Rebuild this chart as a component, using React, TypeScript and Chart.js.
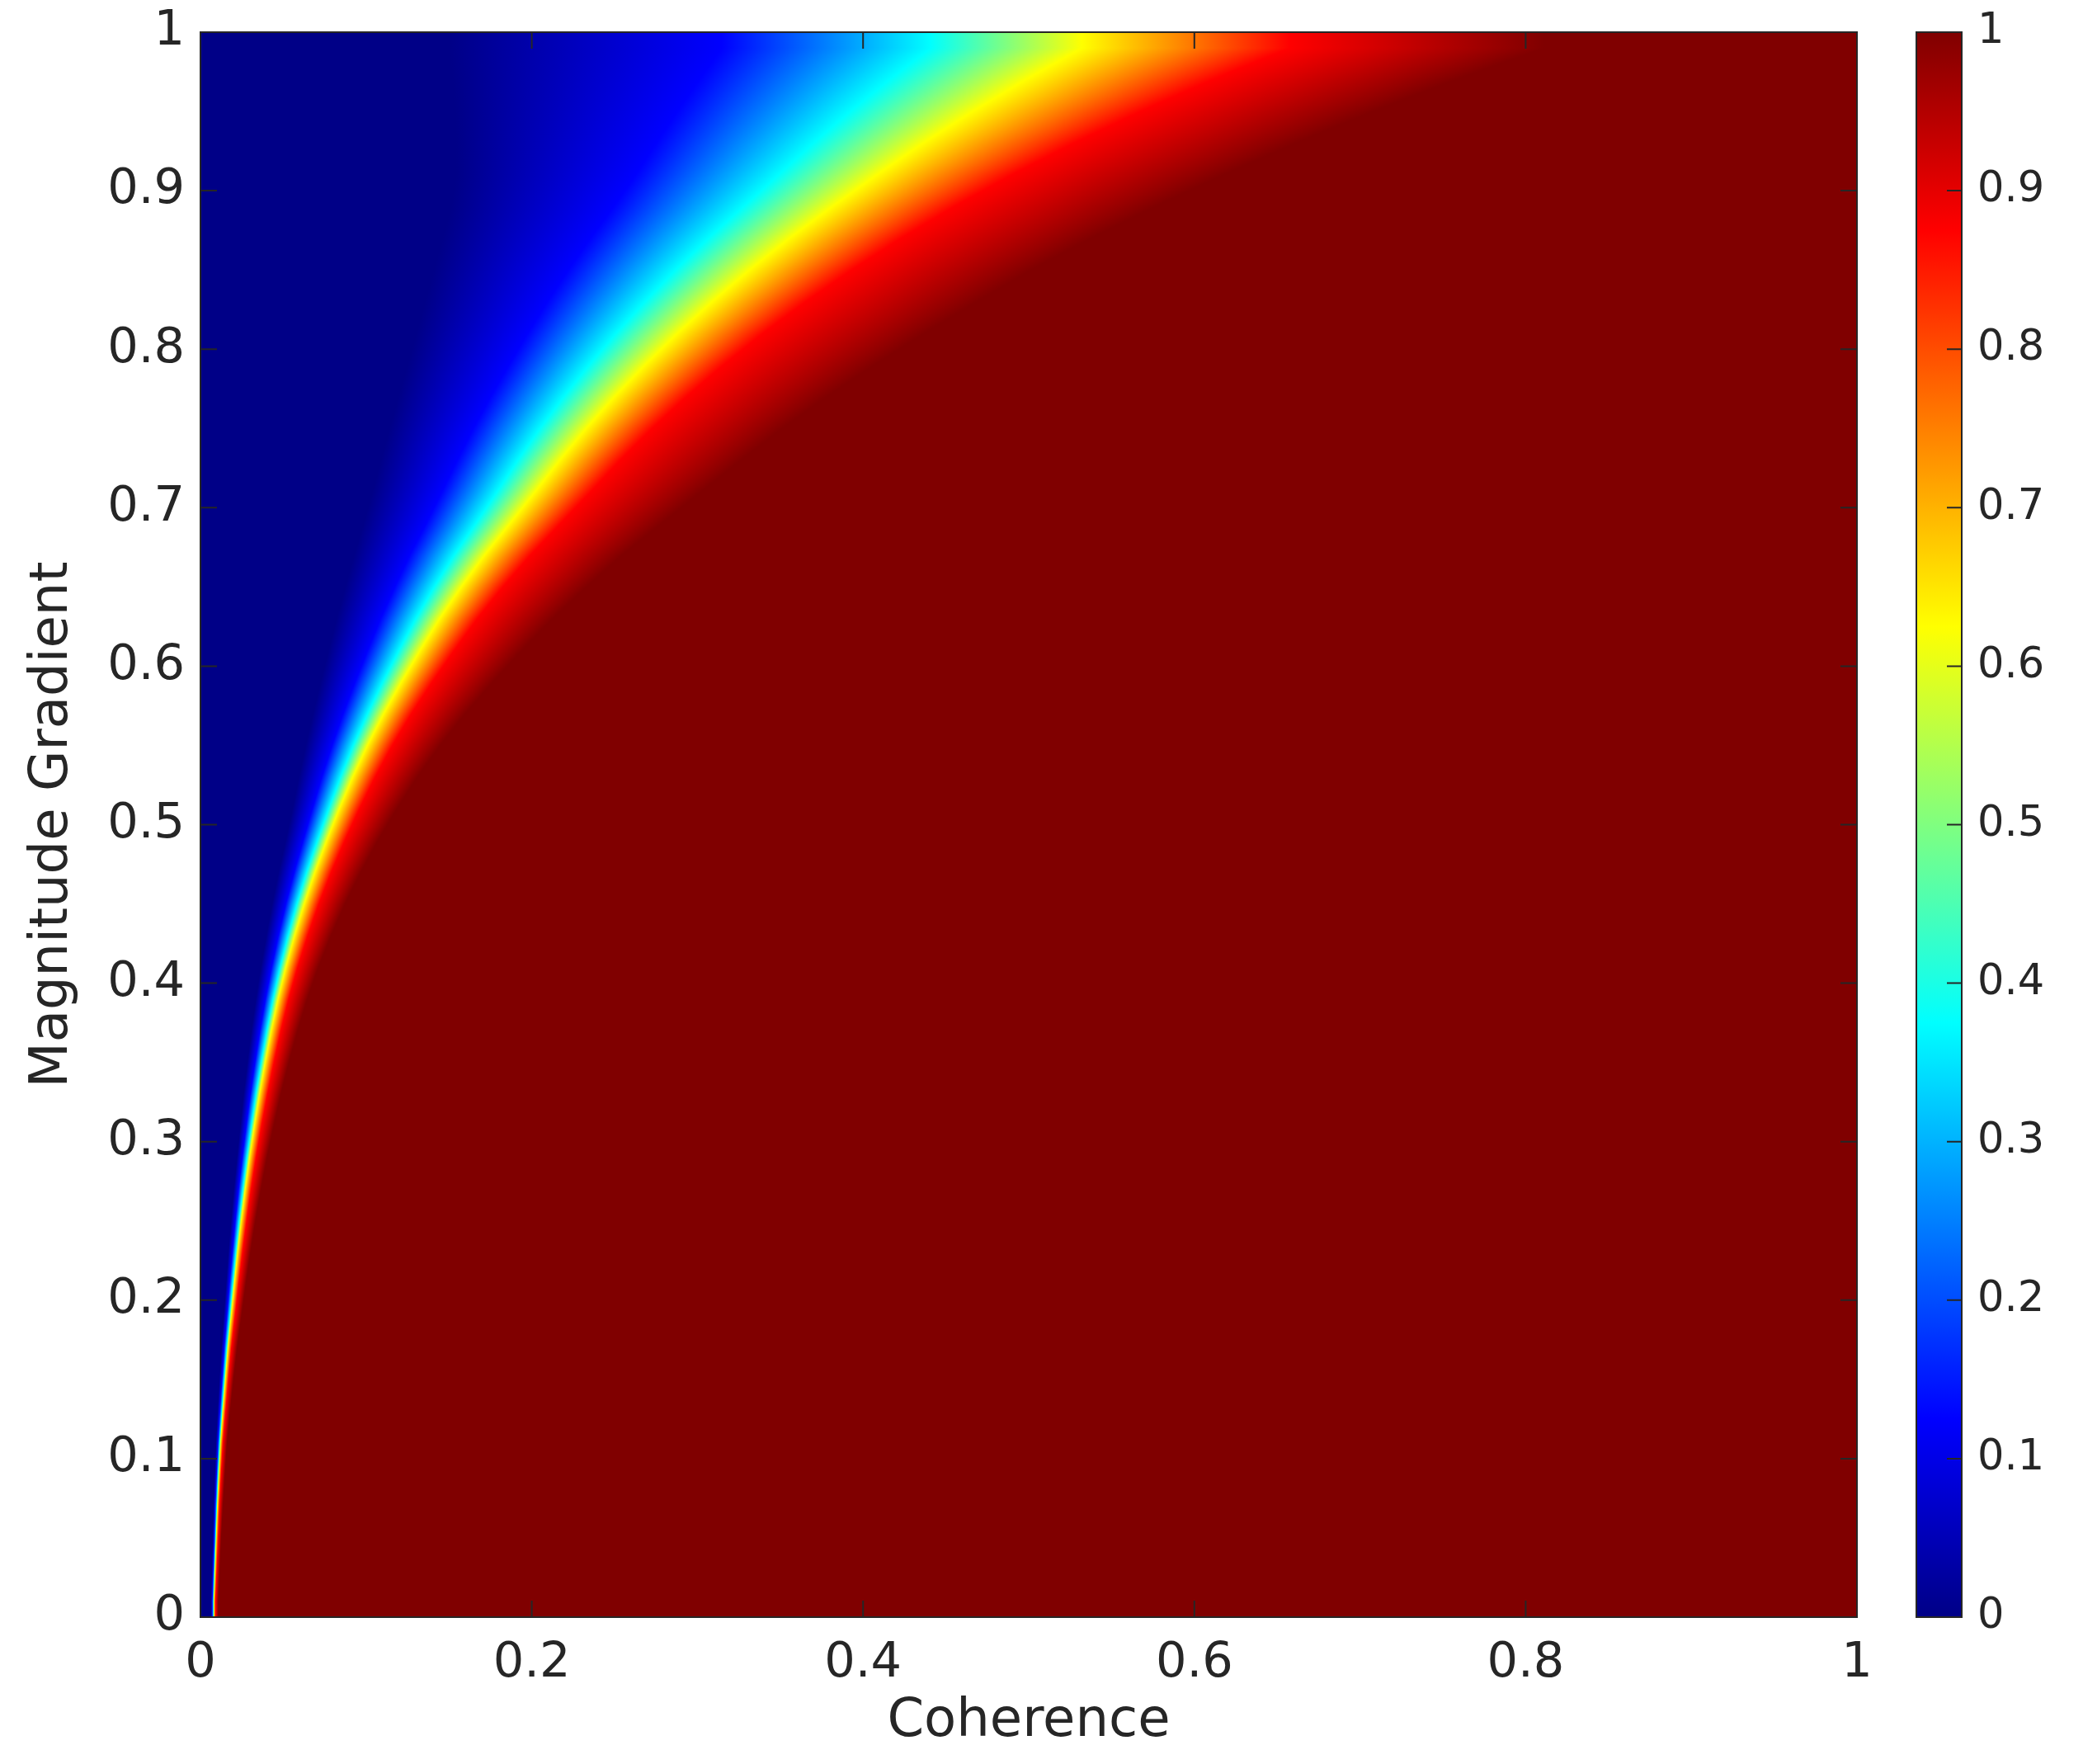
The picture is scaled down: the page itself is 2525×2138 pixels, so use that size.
import { useEffect, useRef } from 'react';
import { Chart, registerables } from 'chart.js';

Chart.register(...registerables);

// Row centres of the image (Magnitude Gradient), 50 rows of height 0.02
const magnitudeGradient = [
  0.01, 0.03, 0.05, 0.07, 0.09, 0.11, 0.13, 0.15, 0.17, 0.19,
  0.21, 0.23, 0.25, 0.27, 0.29, 0.31, 0.33, 0.35, 0.37, 0.39,
  0.41, 0.43, 0.45, 0.47, 0.49, 0.51, 0.53, 0.55, 0.57, 0.59,
  0.61, 0.63, 0.65, 0.67, 0.69, 0.71, 0.73, 0.75, 0.77, 0.79,
  0.81, 0.83, 0.85, 0.87, 0.89, 0.91, 0.93, 0.95, 0.97, 0.99,
];

// Coherence at which each row reaches the colour-bar levels 0, 0.125, 0.375, 0.625, 0.875, 1
const navyEdge = [
  0.0063, 0.0068, 0.0074, 0.0079, 0.0086, 0.0093, 0.0103, 0.0114, 0.0126, 0.0140,
  0.0154, 0.0168, 0.0184, 0.0201, 0.0220, 0.0240, 0.0260, 0.0283, 0.0307, 0.0334,
  0.0364, 0.0397, 0.0432, 0.0471, 0.0514, 0.0555, 0.0594, 0.0635, 0.0679, 0.0725,
  0.0773, 0.0822, 0.0874, 0.0927, 0.0984, 0.1038, 0.1089, 0.1141, 0.1195, 0.1250,
  0.1304, 0.1356, 0.1409, 0.1461, 0.1514, 0.1543, 0.1544, 0.1538, 0.1524, 0.1501,
];
const blueLevel = [
  0.0071, 0.0077, 0.0083, 0.0089, 0.0097, 0.0105, 0.0117, 0.0130, 0.0143, 0.0159,
  0.0175, 0.0192, 0.0210, 0.0230, 0.0252, 0.0276, 0.0301, 0.0329, 0.0359, 0.0392,
  0.0429, 0.0470, 0.0515, 0.0565, 0.0619, 0.0675, 0.0732, 0.0794, 0.0861, 0.0933,
  0.1009, 0.1087, 0.1173, 0.1263, 0.1362, 0.1457, 0.1550, 0.1647, 0.1751, 0.1861,
  0.1975, 0.2094, 0.2220, 0.2353, 0.2494, 0.2627, 0.2750, 0.2878, 0.3010, 0.3147,
];
const cyanLevel = [
  0.0078, 0.0084, 0.0091, 0.0098, 0.0106, 0.0116, 0.0129, 0.0143, 0.0158, 0.0176,
  0.0194, 0.0213, 0.0233, 0.0256, 0.0280, 0.0307, 0.0335, 0.0367, 0.0401, 0.0438,
  0.0481, 0.0529, 0.0582, 0.0641, 0.0706, 0.0774, 0.0845, 0.0922, 0.1008, 0.1100,
  0.1198, 0.1300, 0.1411, 0.1531, 0.1662, 0.1791, 0.1916, 0.2050, 0.2193, 0.2346,
  0.2509, 0.2683, 0.2868, 0.3066, 0.3278, 0.3490, 0.3699, 0.3922, 0.4158, 0.4407,
];
const yellowLevel = [
  0.0081, 0.0088, 0.0095, 0.0102, 0.0111, 0.0121, 0.0135, 0.0150, 0.0166, 0.0185,
  0.0204, 0.0224, 0.0246, 0.0270, 0.0296, 0.0325, 0.0356, 0.0390, 0.0427, 0.0468,
  0.0515, 0.0568, 0.0626, 0.0691, 0.0762, 0.0838, 0.0919, 0.1008, 0.1106, 0.1213,
  0.1326, 0.1444, 0.1574, 0.1714, 0.1868, 0.2020, 0.2169, 0.2328, 0.2499, 0.2683,
  0.2879, 0.3089, 0.3314, 0.3555, 0.3814, 0.4083, 0.4362, 0.4661, 0.4980, 0.5321,
];
const redLevel = [
  0.0091, 0.0099, 0.0107, 0.0115, 0.0125, 0.0136, 0.0152, 0.0169, 0.0187, 0.0209,
  0.0231, 0.0254, 0.0279, 0.0306, 0.0336, 0.0369, 0.0405, 0.0444, 0.0486, 0.0533,
  0.0587, 0.0648, 0.0715, 0.0790, 0.0872, 0.0960, 0.1055, 0.1159, 0.1274, 0.1400,
  0.1533, 0.1672, 0.1826, 0.1992, 0.2174, 0.2356, 0.2535, 0.2727, 0.2934, 0.3157,
  0.3396, 0.3655, 0.3932, 0.4230, 0.4551, 0.4898, 0.5272, 0.5675, 0.6108, 0.6574,
];
const darkRedEdge = [
  0.0108, 0.0117, 0.0126, 0.0136, 0.0148, 0.0161, 0.0180, 0.0200, 0.0222, 0.0248,
  0.0274, 0.0302, 0.0332, 0.0366, 0.0402, 0.0443, 0.0486, 0.0534, 0.0587, 0.0645,
  0.0712, 0.0789, 0.0873, 0.0968, 0.1072, 0.1186, 0.1310, 0.1447, 0.1598, 0.1765,
  0.1941, 0.2126, 0.2330, 0.2544, 0.2783, 0.3021, 0.3263, 0.3512, 0.3780, 0.4068,
  0.4370, 0.4688, 0.5014, 0.5376, 0.5764, 0.6175, 0.6612, 0.7078, 0.7577, 0.8111,
];

const xTickValues = [0, 0.2, 0.4, 0.6, 0.8, 1];
const xTickLabels = ['0', '0.2', '0.4', '0.6', '0.8', '1'];
const yTickValues = [0, 0.1, 0.2, 0.3, 0.4, 0.5, 0.6, 0.7, 0.8, 0.9, 1];
const yTickLabels = ['0', '0.1', '0.2', '0.3', '0.4', '0.5', '0.6', '0.7', '0.8', '0.9', '1'];
const colorbarTickValues = [0, 0.1, 0.2, 0.3, 0.4, 0.5, 0.6, 0.7, 0.8, 0.9, 1];
const colorbarTickLabels = ['0', '0.1', '0.2', '0.3', '0.4', '0.5', '0.6', '0.7', '0.8', '0.9', '1'];

// jet colormap key colours
const jetLevels = [0, 0.125, 0.375, 0.625, 0.875, 1];
const jetColors = ['rgb(0,0,135)', 'rgb(0,0,255)', 'rgb(0,255,255)', 'rgb(255,255,0)', 'rgb(255,0,0)', 'rgb(128,0,0)'];
const levelArrays = [navyEdge, blueLevel, cyanLevel, yellowLevel, redLevel, darkRedEdge];

const TEXT = '#262626';
const FONT = "'DejaVu Sans', 'Liberation Sans', sans-serif";

const W = 2525;
const H = 2138;

const clamp01 = (v: number) => Math.min(1, Math.max(0, v));

// Paint the rows (interpolated shading between row centres, like shading interp)
function heatPattern(chart: any): CanvasPattern | string {
  const a = chart.chartArea;
  const xs = chart.scales && chart.scales.x;
  const ys = chart.scales && chart.scales.y;
  if (!a || !xs || !ys) return jetColors[5];
  const key = `${a.left}|${a.top}|${a.right}|${a.bottom}`;
  if (chart.$heat && chart.$heat.key === key) return chart.$heat.pattern;
  const off = document.createElement('canvas');
  off.width = chart.width;
  off.height = chart.height;
  const o = off.getContext('2d') as CanvasRenderingContext2D;
  const p0 = xs.getPixelForValue(0);
  const p1 = xs.getPixelForValue(1);
  const n = magnitudeGradient.length;
  for (let py = Math.floor(a.top); py < Math.ceil(a.bottom); py++) {
    const g = ys.getValueForPixel(py + 0.5);
    let i = 0;
    while (i < n - 2 && magnitudeGradient[i + 1] < g) i++;
    const t = clamp01((g - magnitudeGradient[i]) / (magnitudeGradient[i + 1] - magnitudeGradient[i]));
    const grad = o.createLinearGradient(p0, 0, p1, 0);
    levelArrays.forEach((arr, k) => {
      grad.addColorStop(clamp01(arr[i] + (arr[i + 1] - arr[i]) * t), jetColors[k]);
    });
    o.fillStyle = grad;
    o.fillRect(p0, py, p1 - p0, 1);
  }
  const pattern = chart.ctx.createPattern(off, 'no-repeat');
  chart.$heat = { key, pattern };
  return pattern;
}

const frameAndColorbar = {
  id: 'frameAndColorbar',
  afterDatasetsDraw(chart: any) {
    const { ctx, chartArea: a, scales } = chart;
    const xs = scales.x;
    const ys = scales.y;
    const cb = scales.cb;
    const tick = 20;
    ctx.save();
    ctx.strokeStyle = TEXT;
    ctx.lineWidth = 2;
    ctx.strokeRect(a.left, a.top, a.right - a.left, a.bottom - a.top);
    ctx.beginPath();
    for (const v of xTickValues) {
      const px = xs.getPixelForValue(v);
      ctx.moveTo(px, a.bottom);
      ctx.lineTo(px, a.bottom - tick);
      ctx.moveTo(px, a.top);
      ctx.lineTo(px, a.top + tick);
    }
    for (const v of yTickValues) {
      const py = ys.getPixelForValue(v);
      ctx.moveTo(a.left, py);
      ctx.lineTo(a.left + tick, py);
      ctx.moveTo(a.right, py);
      ctx.lineTo(a.right - tick, py);
    }
    ctx.stroke();

    // colour bar
    const top = cb.getPixelForValue(1);
    const bottom = cb.getPixelForValue(0);
    const left = a.right + 72;
    const width = 55;
    const grad = ctx.createLinearGradient(0, bottom, 0, top);
    jetLevels.forEach((lv, i) => grad.addColorStop(lv, jetColors[i]));
    ctx.fillStyle = grad;
    ctx.fillRect(left, top, width, bottom - top);
    ctx.strokeRect(left, top, width, bottom - top);
    ctx.beginPath();
    for (const v of colorbarTickValues) {
      const py = cb.getPixelForValue(v);
      ctx.moveTo(left + width, py);
      ctx.lineTo(left + width - 18, py);
    }
    ctx.stroke();
    ctx.restore();
  },
};

export default function App() {
  const canvasRef = useRef<HTMLCanvasElement | null>(null);

  useEffect(() => {
    document.body.style.margin = '0';
    document.body.style.overflow = 'hidden';
    const canvas = canvasRef.current;
    if (!canvas) return;

    const rows = magnitudeGradient.map((g) => ({ x: [0, 1], y: g }));

    const chart = new Chart(canvas, {
      type: 'bar',
      data: {
        datasets: [
          {
            data: rows as any,
            xAxisID: 'x',
            yAxisID: 'y',
            borderWidth: 0,
            barPercentage: 1.04,
            categoryPercentage: 1,
            backgroundColor: (ctx: any) => heatPattern(ctx.chart),
          } as any,
        ],
      },
      options: {
        indexAxis: 'y',
        responsive: false,
        animation: false,
        devicePixelRatio: 1,
        layout: { padding: { top: 39, left: 0, right: 0, bottom: 0 } },
        plugins: {
          legend: { display: false },
          tooltip: { enabled: false },
        },
        scales: {
          x: {
            type: 'linear',
            position: 'bottom',
            min: 0,
            max: 1,
            offset: false,
            grid: { display: false, offset: false },
            border: { display: false },
            afterBuildTicks: (scale: any) => {
              scale.ticks = xTickValues.map((v) => ({ value: v }));
            },
            afterFit: (scale: any) => {
              scale.height = H - 1960;
              scale.paddingLeft = 0;
              scale.paddingRight = 0;
            },
            ticks: {
              autoSkip: false,
              maxRotation: 0,
              minRotation: 0,
              padding: 13,
              color: TEXT,
              font: { family: FONT, size: 59 },
              callback: (_v: any, i: number) => xTickLabels[i],
            },
            title: {
              display: true,
              text: 'Coherence',
              color: TEXT,
              font: { family: FONT, size: 64 },
              padding: { top: 0, bottom: 12 },
            },
          },
          y: {
            type: 'linear',
            position: 'left',
            min: 0,
            max: 1,
            offset: false,
            grid: { display: false, offset: false },
            border: { display: false },
            afterBuildTicks: (scale: any) => {
              scale.ticks = yTickValues.map((v) => ({ value: v }));
            },
            afterFit: (scale: any) => {
              scale.width = 243;
              scale.paddingTop = 0;
              scale.paddingBottom = 0;
            },
            ticks: {
              autoSkip: false,
              padding: 11,
              color: TEXT,
              font: { family: FONT, size: 59 },
              callback: (_v: any, i: number) => yTickLabels[i],
            },
            title: {
              display: true,
              text: 'Magnitude Gradient',
              color: TEXT,
              font: { family: FONT, size: 64 },
              padding: { top: 26, bottom: 0 },
            },
          },
          cb: {
            type: 'linear',
            position: 'right',
            min: 0,
            max: 1,
            offset: false,
            grid: { display: false, offset: false },
            border: { display: false },
            afterBuildTicks: (scale: any) => {
              scale.ticks = colorbarTickValues.map((v) => ({ value: v }));
            },
            afterFit: (scale: any) => {
              scale.width = W - 2251;
              scale.paddingTop = 0;
              scale.paddingBottom = 0;
            },
            ticks: {
              autoSkip: false,
              padding: 138,
              color: TEXT,
              font: { family: FONT, size: 51 },
              callback: (_v: any, i: number) => colorbarTickLabels[i],
            },
          },
        } as any,
      },
      plugins: [frameAndColorbar],
    });

    return () => {
      chart.destroy();
    };
  }, []);

  return (
    <div style={{ width: W, height: H, background: '#ffffff' }}>
      <canvas ref={canvasRef} width={W} height={H} style={{ display: 'block', width: W, height: H }} />
    </div>
  );
}
